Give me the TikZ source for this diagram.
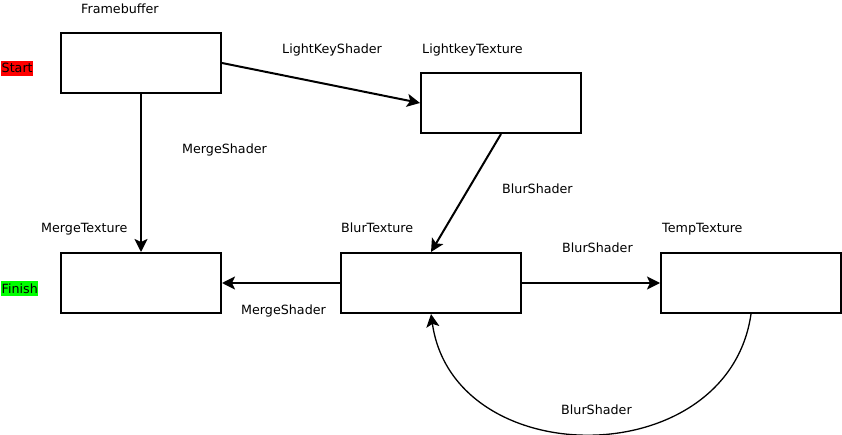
\documentclass[tikz,border=0pt]{standalone}
\usepackage{fontspec}
\setmainfont{DejaVu Sans}
\usetikzlibrary{arrows.meta}
\begin{document}
\begin{tikzpicture}[x=1pt,y=-1pt,
  box/.style={draw,line width=2pt,minimum width=160pt,minimum height=60pt,inner sep=0pt},
  wbox/.style={box,minimum width=180pt},
  lbl/.style={anchor=base west,inner sep=0pt,font=\fontsize{12.7}{15}\selectfont},
  tag/.style={lbl,inner xsep=0.5pt,inner ysep=1pt,text height=11pt,text depth=2pt},
  arr/.style={line width=2pt,-{Stealth[length=13pt,width=13pt,inset=3pt]}}]
\useasboundingbox (0,0) rectangle (842,435);
% boxes
\node[box] (fb) at (141,63) {};
\node[box] (lk) at (501,103) {};
\node[box] (mt) at (141,283) {};
\node[wbox] (bt) at (431,283) {};
\node[wbox] (tt) at (751,283) {};
% labels
\node[lbl] (lfb) at (81,14) {Framebuffer};
\node[tag,fill=red] (start) at (1,73) {Start};
\node[lbl] (llks) at (282,54) {LightKeyShader};
\node[lbl] (llk) at (422,54) {LightkeyTexture};
\node[lbl] (lms1) at (182,154) {MergeShader};
\node[lbl] (lbs1) at (502,194) {BlurShader};
\node[lbl] (lmt) at (41,233) {MergeTexture};
\node[lbl] (lbt) at (341,233) {BlurTexture};
\node[lbl] (lbs2) at (562,253) {BlurShader};
\node[lbl] (ltt) at (662,233) {TempTexture};
\node[tag,fill=green] (finish) at (1,293) {Finish};
\node[lbl] (lms2) at (241,314) {MergeShader};
\node[lbl] (lbs3) at (561,414) {BlurShader};
% connectors
\draw[arr] (fb.east) -- (lk.west);
\draw[arr] (fb.south) -- (mt.north);
\draw[arr] (lk.south) -- (bt.north);
\draw[arr] (bt.west) -- (mt.east);
\draw[arr] (bt.east) -- (tt.west);
\draw[arr,line width=1.3pt] (tt.south) .. controls +(-23,160) and +(23,160) .. (bt.south);
\end{tikzpicture}
\end{document}
